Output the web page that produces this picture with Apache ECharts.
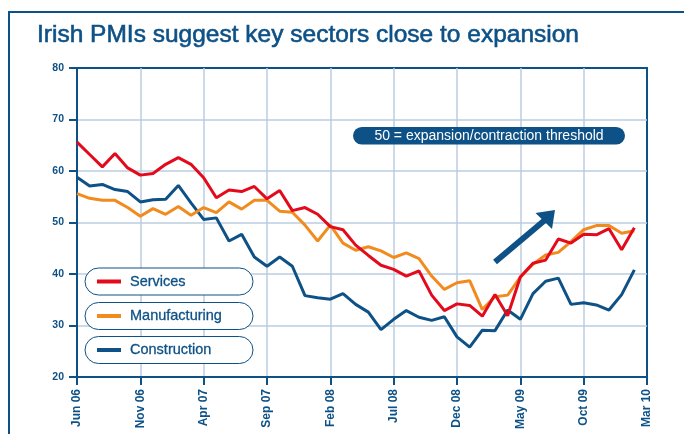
<!DOCTYPE html>
<html>
<head>
<meta charset="utf-8">
<script src="https://cdn.jsdelivr.net/npm/echarts@6/dist/echarts.min.js"></script>
<style>
    html, body { margin: 0; padding: 0; background: #fff; }
    #chart { width: 684px; height: 434px; }
</style>
</head>
<body>
<div id="chart"></div>
<script>
// monthly, Jun 06 .. Mar 10
const months = [
    'Jun 06', 'Jul 06', 'Aug 06', 'Sep 06', 'Oct 06', 'Nov 06', 'Dec 06', 'Jan 07', 'Feb 07', 'Mar 07',
    'Apr 07', 'May 07', 'Jun 07', 'Jul 07', 'Aug 07', 'Sep 07', 'Oct 07', 'Nov 07', 'Dec 07', 'Jan 08',
    'Feb 08', 'Mar 08', 'Apr 08', 'May 08', 'Jun 08', 'Jul 08', 'Aug 08', 'Sep 08', 'Oct 08', 'Nov 08',
    'Dec 08', 'Jan 09', 'Feb 09', 'Mar 09', 'Apr 09', 'May 09', 'Jun 09', 'Jul 09', 'Aug 09', 'Sep 09',
    'Oct 09', 'Nov 09', 'Dec 09', 'Jan 10', 'Feb 10', 'Mar 10'
]

const services = [
    65.6, 63.2, 60.8, 63.4, 60.6, 59.2, 59.5, 61.3, 62.6, 61.3,
    58.7, 54.8, 56.3, 56.0, 57.0, 54.6, 56.2, 52.3, 52.9, 51.6,
    49.2, 48.6, 45.6, 43.6, 41.7, 40.9, 39.6, 40.6, 35.9, 32.9,
    34.2, 33.9, 31.8, 36.0, 31.9, 39.4, 42.1, 42.7, 46.8, 46.0,
    47.7, 47.6, 48.8, 44.7, 49.0
]
const manufacturing = [
    55.6, 54.7, 54.3, 54.3, 52.9, 51.2, 52.7, 51.6, 53.1, 51.4,
    52.9, 51.9, 54.0, 52.6, 54.3, 54.3, 52.2, 52.0, 49.5, 46.4,
    49.5, 46.0, 44.6, 45.3, 44.5, 43.2, 44.1, 43.0, 39.6, 37.0,
    38.3, 38.7, 33.1, 35.6, 35.9, 39.4, 41.9, 43.7, 44.2, 46.3,
    48.6, 49.4, 49.4, 47.9, 48.4
]
const construction = [
    58.8, 57.1, 57.4, 56.4, 56.0, 54.0, 54.4, 54.5, 57.2, 53.8,
    50.6, 50.9, 46.4, 47.7, 43.3, 41.5, 43.3, 41.5, 35.8, 35.4,
    35.1, 36.2, 34.1, 32.6, 29.2, 31.2, 32.9, 31.6, 31.0, 31.7,
    27.8, 25.8, 29.1, 29.0, 33.0, 31.2, 36.2, 38.6, 39.2, 34.1,
    34.4, 34.0, 33.0, 36.0, 40.8
]

const navy = '#0d5186'
const gridBlue = '#bacde1'
const font = 'Arial, "Liberation Sans", Helvetica, sans-serif'

let chart = echarts.init(document.getElementById('chart'), null, {renderer: 'canvas'})

function pillLegend(name, top) {
    return {
        data: [name],
        left: 85,
        top: top,
        orient: 'horizontal',
        icon: 'rect',
        itemWidth: 24,
        itemHeight: 4,
        padding: [5, 8, 5, 12],
        borderColor: navy,
        borderWidth: 1,
        borderRadius: 13.5,
        backgroundColor: '#fff',
        selectedMode: false,
        textStyle: {
            color: navy,
            fontSize: 14.5,
            fontFamily: font,
            width: 115,
            lineHeight: 17,
            padding: [0, 0, 0, 4],
            textBorderColor: navy,
            textBorderWidth: 0.3
        }
    }
}

let option = {
    animation: false,
    title: {
        text: 'Irish PMIs suggest key sectors close to expansion',
        left: 37,
        top: 23,
        padding: 0,
        textStyle: {
            color: navy,
            fontSize: 24.5,
            fontWeight: 'normal',
            fontFamily: font,
            textBorderColor: navy,
            textBorderWidth: 0.6
        }
    },
    legend: [
        pillLegend('Services', 268),
        pillLegend('Manufacturing', 302.5),
        pillLegend('Construction', 336.5)
    ],
    grid: {
        left: 77,
        right: 37,
        top: 68,
        bottom: 57,
        show: true,
        borderColor: navy,
        borderWidth: 2,
        backgroundColor: 'transparent'
    },
    xAxis: {
        type: 'category',
        boundaryGap: false,
        data: months,
        axisLine: {lineStyle: {color: navy, width: 2}},
        axisTick: {interval: 4, length: 8, lineStyle: {color: navy, width: 2}},
        axisLabel: {
            interval: 4,
            rotate: 90,
            margin: 12,
            color: navy,
            fontSize: 12,
            fontWeight: 'bold',
            fontFamily: font
        },
        splitLine: {
            show: true,
            interval: 4,
            showMinLine: false,
            showMaxLine: false,
            lineStyle: {color: gridBlue, width: 1.5}
        }
    },
    yAxis: {
        type: 'value',
        min: 20,
        max: 80,
        interval: 10,
        axisLine: {show: true, lineStyle: {color: navy, width: 2}},
        axisTick: {show: true, length: 8, lineStyle: {color: navy, width: 2}},
        axisLabel: {
            margin: 13,
            color: navy,
            fontSize: 10.5,
            fontWeight: 'bold',
            fontFamily: font
        },
        splitLine: {
            show: true,
            showMinLine: false,
            showMaxLine: false,
            lineStyle: {color: gridBlue, width: 1.5}
        }
    },
    series: [
        {
            name: 'Services',
            type: 'line',
            data: services,
            symbol: 'none',
            z: 4,
            color: '#e30a1c',
            lineStyle: {width: 3}
        },
        {
            name: 'Manufacturing',
            type: 'line',
            data: manufacturing,
            symbol: 'none',
            z: 3,
            color: '#f28b1e',
            lineStyle: {width: 3}
        },
        {
            name: 'Construction',
            type: 'line',
            data: construction,
            symbol: 'none',
            z: 2,
            color: navy,
            lineStyle: {width: 3}
        }
    ],
    graphic: [
        // outer frame
        {
            type: 'rect',
            shape: {x: 9, y: 12, width: 700, height: 500},
            style: {fill: 'none', stroke: navy, lineWidth: 2},
            silent: true
        },
        // threshold note
        {
            type: 'rect',
            shape: {x: 353, y: 127, width: 272, height: 17.5, r: 8.75},
            style: {fill: navy},
            z: 10
        },
        {
            type: 'text',
            x: 489,
            y: 136,
            style: {
                text: '50 = expansion/contraction threshold',
                fill: '#fff',
                fontSize: 14,
                fontFamily: font,
                align: 'center',
                verticalAlign: 'middle'
            },
            z: 11
        },
        // trend arrow
        {
            type: 'polyline',
            shape: {points: [[495, 262], [545, 220]]},
            style: {stroke: navy, lineWidth: 6, fill: 'none'},
            z: 10
        },
        {
            type: 'polygon',
            shape: {points: [[555, 210], [535.5, 213], [552, 229]]},
            style: {fill: navy},
            z: 10
        }
    ]
}

chart.setOption(option)
</script>
</body>
</html>
